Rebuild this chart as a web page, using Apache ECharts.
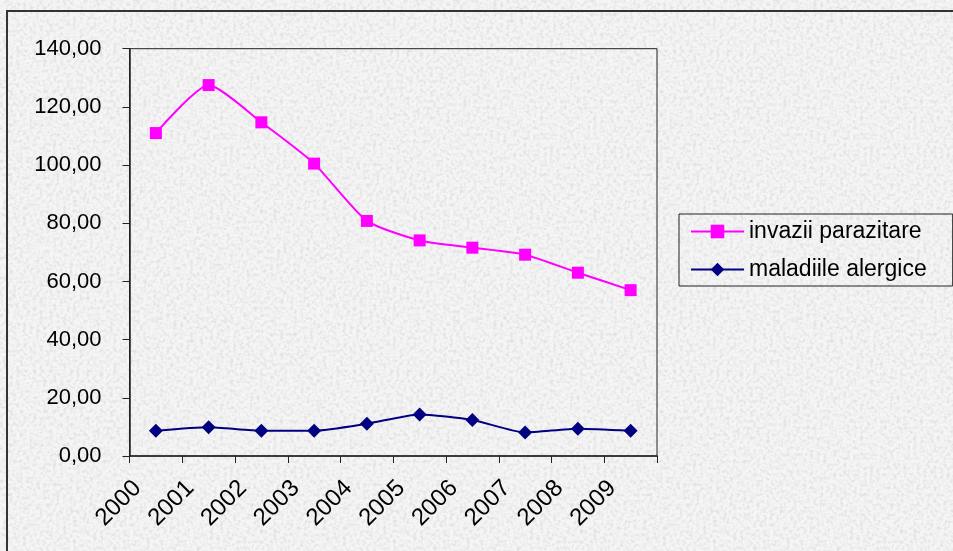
<!DOCTYPE html>
<html>
<head>
<meta charset="utf-8">
<script src="https://cdn.jsdelivr.net/npm/echarts@6/dist/echarts.min.js"></script>
<style>
html, body { margin: 0; padding: 0; }
body {
  width: 953px; height: 551px; overflow: hidden;
  background-color: #f0f0f0;
  background-image: url("data:image/svg+xml;utf8,<svg xmlns='http://www.w3.org/2000/svg' width='320' height='320'><filter id='n'><feTurbulence type='fractalNoise' baseFrequency='0.3' numOctaves='3' seed='4' stitchTiles='stitch'/><feColorMatrix values='0 0 0 0 0.66  0 0 0 0 0.66  0 0 0 0 0.66  0 0 0 1.5 -0.62'/></filter><rect width='100%25' height='100%25' fill='%23f5f5f5'/><rect width='100%25' height='100%25' filter='url(%23n)'/></svg>");
}
#chart { width: 953px; height: 551px; }
</style>
</head>
<body>
<div id="chart"></div>
<script>
const years = ['2000','2001','2002','2003','2004','2005','2006','2007','2008','2009'];
const seriesNames = ['invazii parazitare', 'maladiile alergice'];
const invaziiParazitare = [111.0, 127.5, 114.7, 100.5, 80.8, 74.1, 71.6, 69.2, 63.0, 57.0];
const maladiileAlergice = [8.7, 9.9, 8.7, 8.7, 11.1, 14.3, 12.4, 8.1, 9.4, 8.7];
const yMin = 0, yMax = 140, yStep = 20;

const chart = echarts.init(document.getElementById('chart'), null, { renderer: 'canvas' });
const font = 'Liberation Sans, Arial, sans-serif';

chart.setOption({
  backgroundColor: 'transparent',
  animation: false,
  textStyle: { fontFamily: font },
  graphic: [{
    type: 'rect',
    shape: { x: 7, y: 11, width: 1000, height: 1000 },
    style: { fill: 'none', stroke: '#333', lineWidth: 2 },
    silent: true
  }],
  grid: {
    left: 129.5, top: 48.7, right: 296, bottom: 95,
    show: true, borderColor: '#222', borderWidth: 1,
    backgroundColor: 'transparent'
  },
  legend: {
    orient: 'vertical',
    left: 679, top: 214,
    padding: [6, 26, 5, 11],
    itemWidth: 53, itemHeight: 17, itemGap: 15,
    borderColor: '#222', borderWidth: 1,
    backgroundColor: 'transparent',
    textStyle: { fontFamily: font, fontSize: 23, color: '#000' },
    data: seriesNames
  },
  xAxis: {
    type: 'category',
    data: years,
    boundaryGap: true,
    axisLine: { lineStyle: { color: '#222', width: 1.5 } },
    axisTick: { show: true, length: 7, lineStyle: { color: '#222', width: 1 } },
    axisLabel: {
      rotate: 45, interval: 0, margin: 10,
      fontFamily: font, fontSize: 24, color: '#000',
      padding: [0, 26, 0, 0]
    },
    splitLine: { show: false }
  },
  yAxis: {
    type: 'value',
    min: yMin, max: yMax, interval: yStep,
    axisLine: { show: true, lineStyle: { color: '#222', width: 1.5 } },
    axisTick: { show: true, length: 7, lineStyle: { color: '#222', width: 1 } },
    axisLabel: {
      margin: 28, fontFamily: font, fontSize: 22, color: '#000',
      formatter: v => v.toFixed(2).replace('.', ',')
    },
    splitLine: { show: false }
  },
  series: [
    {
      name: seriesNames[0], type: 'line', data: invaziiParazitare,
      smooth: 0.2,
      symbol: 'rect', symbolSize: 12,
      itemStyle: { color: '#ff00ff' },
      lineStyle: { color: '#ff00ff', width: 2 }
    },
    {
      name: seriesNames[1], type: 'line', data: maladiileAlergice,
      smooth: 0.2,
      symbol: 'diamond', symbolSize: [14, 14],
      itemStyle: { color: '#000080' },
      lineStyle: { color: '#000080', width: 2 }
    }
  ]
});
</script>
</body>
</html>
